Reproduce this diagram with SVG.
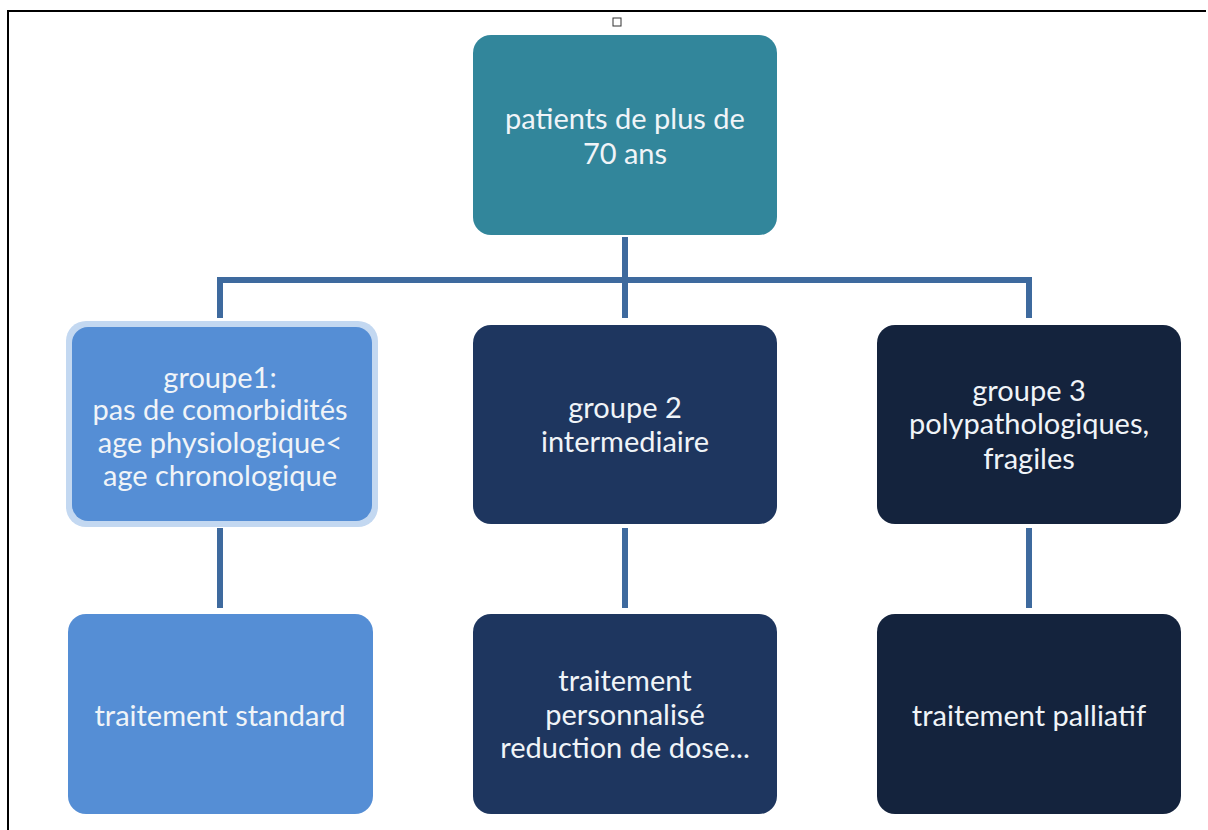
<svg xmlns="http://www.w3.org/2000/svg" width="1208" height="830" viewBox="0 0 1208 830">
  <style>
    .box { stroke: none; }
    .lbl { font-family: Lato, "Open Sans", "Liberation Sans", sans-serif; font-size: 29px; fill: #F0F4F8; text-anchor: middle; }
    .conn { stroke: #3E6A9E; stroke-width: 6; fill: none; stroke-linejoin: miter; }
  </style>
  <rect width="1208" height="830" fill="#FFFFFF"/>
  <!-- page frame -->
  <path d="M8 830 V11 H1206" fill="none" stroke="#000000" stroke-width="2"/>
  <rect x="613" y="18" width="8" height="8" fill="none" stroke="#333333" stroke-width="1"/>

  <g id="connectors">
    <path class="conn" d="M625 237 V318"/>
    <path class="conn" d="M220 318 V280 H1029 V318"/>
    <path class="conn" d="M220 528 V608"/>
    <path class="conn" d="M625 528 V608"/>
    <path class="conn" d="M1029 528 V608"/>
  </g>

  <g id="root">
    <rect class="box" x="473" y="35" width="304" height="200" rx="18" fill="#32869B"/>
    <text class="lbl" x="625" y="129">patients de plus de</text>
    <text class="lbl" x="625" y="164">70 ans</text>
  </g>

  <g id="groupe1">
    <rect x="66" y="321" width="312" height="206" rx="20" fill="#C3D8F1"/>
    <rect class="box" x="72" y="327" width="300" height="194" rx="16" fill="#558ED5"/>
    <text class="lbl" x="220" y="388">groupe1:</text>
    <text class="lbl" x="220" y="420">pas de comorbidités</text>
    <text class="lbl" x="220" y="453">age physiologique&lt;</text>
    <text class="lbl" x="220" y="486">age chronologique</text>
  </g>

  <g id="groupe2">
    <rect class="box" x="473" y="325" width="304" height="199" rx="18" fill="#1E365F"/>
    <text class="lbl" x="625" y="418">groupe 2</text>
    <text class="lbl" x="625" y="452">intermediaire</text>
  </g>

  <g id="groupe3">
    <rect class="box" x="877" y="325" width="304" height="199" rx="18" fill="#14233D"/>
    <text class="lbl" x="1029" y="401">groupe 3</text>
    <text class="lbl" x="1029" y="434">polypathologiques,</text>
    <text class="lbl" x="1029" y="469">fragiles</text>
  </g>

  <g id="traitement-standard">
    <rect class="box" x="68" y="614" width="305" height="200" rx="18" fill="#558ED5"/>
    <text class="lbl" x="220" y="726">traitement standard</text>
  </g>

  <g id="traitement-personnalise">
    <rect class="box" x="473" y="614" width="304" height="200" rx="18" fill="#1E365F"/>
    <text class="lbl" x="625" y="691">traitement</text>
    <text class="lbl" x="625" y="725">personnalisé</text>
    <text class="lbl" x="625" y="758">reduction de dose...</text>
  </g>

  <g id="traitement-palliatif">
    <rect class="box" x="877" y="614" width="304" height="200" rx="18" fill="#14233D"/>
    <text class="lbl" x="1029" y="726">traitement palliatif</text>
  </g>
</svg>
